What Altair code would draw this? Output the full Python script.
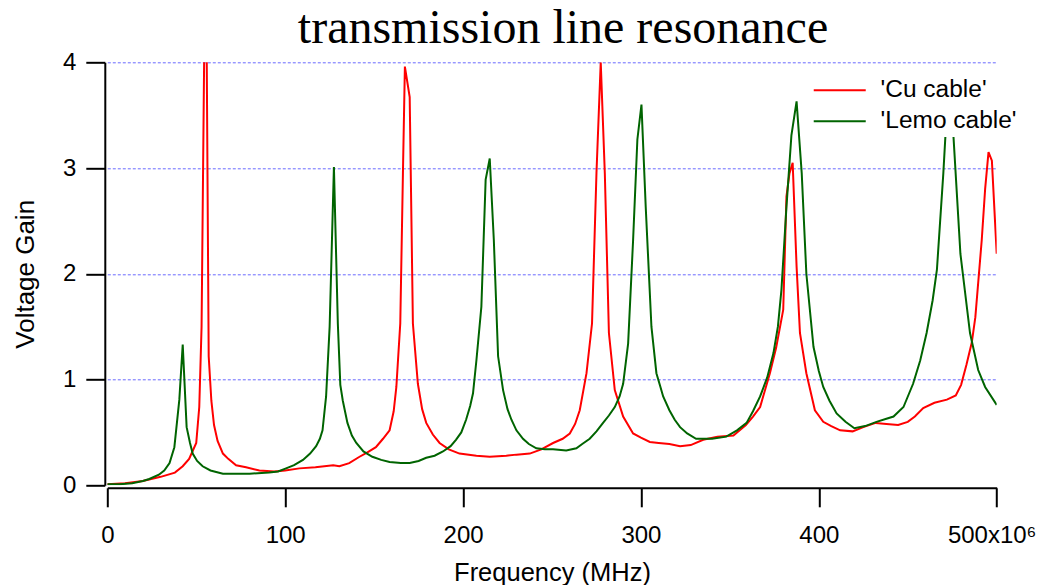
import altair as alt
import pandas as pd

# ---- data ----
cu_freq = [0, 10, 20, 30, 38, 42.4, 46, 50, 51.7, 53, 54.6, 55.8, 57, 58.5, 60, 62, 65, 68, 72.4, 78,
           85.5, 94, 100, 108, 117, 127, 130.5, 136, 141.8, 146, 151, 155, 158.7, 161, 162.5, 164.7,
           166.2, 167.3, 170, 171.8, 174.6, 177, 179.3, 183, 186.8, 192, 198, 207.5, 215, 224.3, 230,
           237.5, 244, 250.6, 256, 260, 263, 265.6, 269.4, 272.5, 275, 277.4, 279.7, 282, 285.3, 290,
           295.6, 300, 305, 310, 316, 322, 328, 335, 343, 352, 359, 363, 367, 372.5, 376, 380, 381.8,
           383.5, 385.3, 387.5, 389.4, 393, 397.8, 402.5, 407, 412, 419, 425, 432, 438, 444.6, 450,
           454, 458.7, 465, 472, 477, 480, 483, 486, 488, 491.6, 493.5, 495.4, 497.3, 500]
cu_gain = [0.01, 0.02, 0.04, 0.08, 0.12, 0.18, 0.25, 0.40, 0.74, 1.5, 4.3, 4.3, 1.22, 0.8, 0.57, 0.42,
           0.30, 0.25, 0.19, 0.17, 0.14, 0.13, 0.14, 0.16, 0.17, 0.19, 0.18, 0.21, 0.27, 0.31, 0.36,
           0.44, 0.52, 0.70, 0.93, 1.53, 2.95, 3.96, 3.67, 1.53, 0.96, 0.72, 0.59, 0.48, 0.40, 0.34,
           0.30, 0.28, 0.27, 0.28, 0.29, 0.30, 0.34, 0.40, 0.44, 0.49, 0.58, 0.71, 1.06, 1.53, 2.95,
           4.0, 2.95, 1.44, 0.90, 0.65, 0.49, 0.45, 0.41, 0.40, 0.39, 0.37, 0.38, 0.43, 0.46, 0.47,
           0.57, 0.65, 0.74, 1.06, 1.30, 1.66, 2.73, 2.95, 3.05, 2.07, 1.44, 1.06, 0.71, 0.60, 0.56,
           0.52, 0.51, 0.55, 0.59, 0.58, 0.57, 0.60, 0.65, 0.73, 0.78, 0.81, 0.85, 0.95, 1.14, 1.35,
           1.59, 2.32, 2.8, 3.15, 3.07, 2.19]

lemo_freq = [0, 7, 14, 20, 23.6, 29, 32, 35, 37.7, 40.5, 42.4, 44.6, 46.5, 48, 50.5, 53.6, 58, 65, 72,
             80, 91, 96, 100.5, 105, 110, 114, 117.4, 119.5, 121, 123, 125, 127.4, 129.6, 131, 132.4,
             135, 137.5, 140, 144, 149, 154, 158.7, 165, 170, 175, 179.3, 184, 188.7, 193, 196, 199,
             201.7, 204, 205.6, 207.5, 210.3, 212.7, 215, 217.3, 219.7, 222.5, 225, 227.2, 230, 233.7,
             237, 241.2, 246, 250.6, 258, 263.7, 267, 271.2, 275, 278.7, 282, 285.3, 288, 290, 292.8,
             295.6, 298, 300.3, 302.7, 305.9, 308.7, 310.6, 312.5, 316, 319, 322, 326, 331, 340, 348,
             354, 359.4, 363, 367, 371, 374.5, 377, 379, 381.8, 384.6, 387.5, 390.4, 393, 397, 400,
             402.5, 406, 410, 415, 420, 426, 432.4, 438, 442, 447.6, 453, 457, 460.6, 464, 466.4, 470,
             473, 475.7, 479.6, 485, 489.6, 493.5, 500]
lemo_gain = [0.01, 0.01, 0.02, 0.04, 0.06, 0.10, 0.14, 0.21, 0.36, 0.81, 1.33, 0.55, 0.40, 0.30, 0.23,
             0.18, 0.14, 0.11, 0.11, 0.11, 0.12, 0.13, 0.16, 0.19, 0.24, 0.30, 0.37, 0.44, 0.52, 0.84,
             1.5, 3.01, 1.53, 0.95, 0.80, 0.59, 0.47, 0.40, 0.32, 0.27, 0.24, 0.22, 0.21, 0.21, 0.23,
             0.26, 0.28, 0.32, 0.37, 0.43, 0.50, 0.62, 0.75, 0.87, 1.18, 1.69, 2.89, 3.09, 2.32, 1.22,
             0.90, 0.72, 0.62, 0.52, 0.44, 0.39, 0.35, 0.34, 0.34, 0.33, 0.35, 0.39, 0.44, 0.51, 0.59,
             0.66, 0.74, 0.84, 0.96, 1.34, 2.32, 3.27, 3.60, 2.63, 1.50, 1.06, 0.95, 0.84, 0.71, 0.62,
             0.55, 0.49, 0.44, 0.44, 0.46, 0.52, 0.59, 0.70, 0.84, 1.02, 1.25, 1.50, 1.85, 2.63, 3.31,
             3.63, 2.95, 2.0, 1.31, 1.08, 0.93, 0.80, 0.68, 0.60, 0.54, 0.56, 0.60, 0.63, 0.65, 0.74,
             0.96, 1.18, 1.44, 1.75, 2.04, 2.95, 3.85, 3.30, 2.19, 1.44, 1.09, 0.93, 0.76]

series_names = ["'Cu cable'", "'Lemo cable'"]
series_colors = ["#ff0000", "#006400"]
x_ticks = [0, 100, 200, 300, 400, 500]
y_ticks = [0, 1, 2, 3, 4]
chart_title = ["transmission line resonance"]

df = pd.concat([
    pd.DataFrame({"freq": cu_freq, "gain": cu_gain, "cable": series_names[0]}),
    pd.DataFrame({"freq": lemo_freq, "gain": lemo_gain, "cable": series_names[1]}),
], ignore_index=True)

FONT = "Liberation Sans"
W, H = 889.4, 423

lines = alt.Chart(df).mark_line(clip=True, strokeWidth=2).encode(
    x=alt.X("freq:Q",
            scale=alt.Scale(domain=[0, 500], nice=False, zero=False),
            axis=alt.Axis(values=x_ticks, title="Frequency (MHz)",
                          labelExpr="datum.value == 500 ? '500x10⁶' : datum.label",
                          labelOffset={"condition": {"test": "datum.value === 500", "value": -5},
                                       "value": 0},
                          offset=2.5, tickSize=19, tickWidth=2, domainWidth=2,
                          domainColor="black", tickColor="black",
                          labelPadding=17, labelFontSize=24, labelFont=FONT, labelColor="black",
                          labelFlush=False, labelOverlap=False,
                          titleFontSize=25.5, titleFont=FONT, titleFontWeight="normal",
                          titleColor="black", titlePadding=13, grid=False)),
    y=alt.Y("gain:Q",
            scale=alt.Scale(domain=[0, 4], nice=False),
            axis=alt.Axis(values=y_ticks, format="d", title="Voltage Gain",
                          offset=2.5, tickSize=19, tickWidth=2, domainWidth=2,
                          domainColor="black", tickColor="black",
                          labelPadding=10, labelFontSize=24, labelFont=FONT, labelColor="black",
                          labelFlush=False, labelOverlap=False,
                          titleFontSize=26, titleFont=FONT, titleFontWeight="normal",
                          titleColor="black", titlePadding=24,
                          grid=True, gridDash=[3, 2], gridWidth=1,
                          gridColor={"condition": {"test": "datum.value === 0", "value": "transparent"},
                                     "value": "#6a6aff"})),
    color=alt.Color("cable:N",
                    scale=alt.Scale(domain=series_names, range=series_colors),
                    legend=alt.Legend(title=None, orient="none", legendX=716.2, legendY=11.7,
                                      symbolType="M-2.5,0H2.5", symbolSize=432.6,
                                      symbolStrokeWidth=1.8,
                                      labelFontSize=24.5, labelFont=FONT, labelColor="black",
                                      labelOffset=28.6, fillColor="white", padding=4,
                                      rowPadding=6, labelLimit=400)),
)

title = alt.Chart(pd.DataFrame({"t": chart_title})).mark_text(
    font="Liberation Serif", fontSize=48, color="black", align="center", baseline="alphabetic"
).encode(
    text="t:N",
    x=alt.value(W / 2 + 11),
    y=alt.value(-19.3),
)

chart = alt.layer(lines, title).properties(
    width=W,
    height=H,
    autosize=alt.AutoSizeParams(type="none"),
    padding={"left": 99.3, "top": 54.3, "right": 40, "bottom": 100},
    background="white",
).configure_view(stroke=None)

chart.save("out.html", embed_options={"renderer": "svg", "actions": False})
